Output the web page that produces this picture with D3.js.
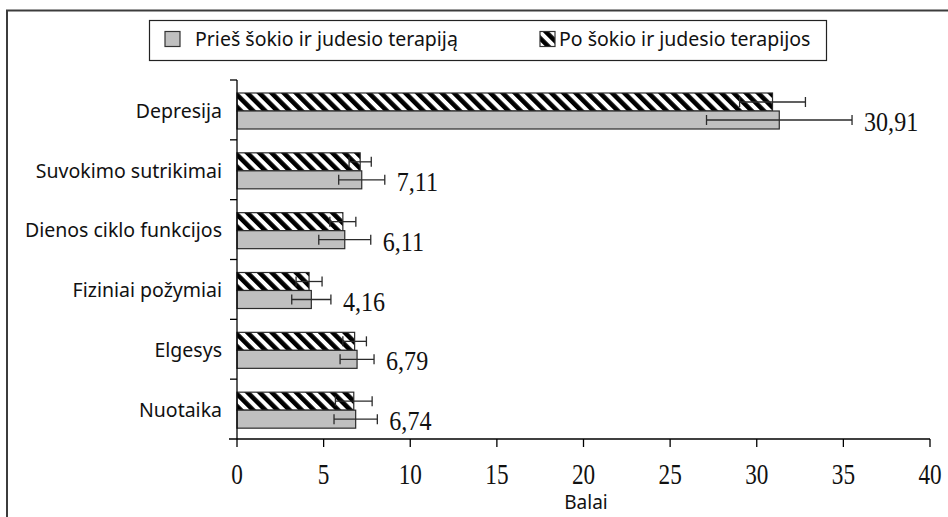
<!DOCTYPE html>
<html>
<head>
<meta charset="utf-8">
<script src="https://cdn.jsdelivr.net/npm/d3@7"></script>
<style>
  html, body { margin: 0; padding: 0; background: #fff; }
  svg { display: block; }
</style>
</head>
<body>
<svg id="chart" width="948" height="517"></svg>
<script>
// Categories, top to bottom
const categories = ["Depresija", "Suvokimo sutrikimai", "Dienos ciklo funkcijos", "Fiziniai požymiai", "Elgesys", "Nuotaika"];
// Scores before therapy (grey) and after therapy (hatched)
const before = [31.3, 7.2, 6.22, 4.29, 6.93, 6.85];
const after = [30.91, 7.11, 6.11, 4.16, 6.79, 6.74];
// Standard deviations used for the error bars
const beforeErr = [4.2, 1.33, 1.5, 1.13, 0.98, 1.25];
const afterErr = [1.9, 0.64, 0.75, 0.75, 0.68, 1.06];
// Values printed next to each group
const valueLabels = ["30,91", "7,11", "6,11", "4,16", "6,79", "6,74"];
const xTicks = [0, 5, 10, 15, 20, 25, 30, 35, 40];
const seriesNames = ["Prieš šokio ir judesio terapiją", "Po šokio ir judesio terapijos"];
const xTitle = "Balai";

const svg = d3.select("#chart");
const ink = "#2b2b2b";
const sans = "'Noto Sans', 'Open Sans', sans-serif";
const serif = "'Liberation Serif', 'Times New Roman', serif";

// Diagonal hatch
const defs = svg.append("defs");
defs.append("pattern")
  .attr("id", "hatch")
  .attr("patternUnits", "userSpaceOnUse")
  .attr("width", 8.6).attr("height", 8.6)
  .attr("patternTransform", "rotate(-45)")
  .append("rect")
  .attr("x", 0).attr("y", 0).attr("width", 4.6).attr("height", 8.6)
  .attr("fill", "#000");

// Outer frame
svg.append("rect")
  .attr("x", 7).attr("y", 10.5).attr("width", 980).attr("height", 560)
  .attr("fill", "none").attr("stroke", "#3c3c3c").attr("stroke-width", 2);

const x = d3.scaleLinear().domain([0, 40]).range([237, 930]);
const y = d3.scaleBand().domain(categories).range([80, 439]);
const sub = d3.scaleBand().domain(["after", "before"]).range([13, 49]);

const rows = categories.map((c, i) => ({
  cat: c, before: before[i], after: after[i],
  beforeErr: beforeErr[i], afterErr: afterErr[i], label: valueLabels[i]
}));

const g = svg.append("g");

// Bars
const row = g.selectAll("g.row").data(rows).join("g")
  .attr("class", "row")
  .attr("transform", d => `translate(0,${y(d.cat)})`);

row.append("rect")
  .attr("x", x(0)).attr("y", sub("after"))
  .attr("width", d => x(d.after) - x(0)).attr("height", sub.bandwidth())
  .attr("fill", "url(#hatch)").attr("stroke", ink).attr("stroke-width", 1.2);

row.append("rect")
  .attr("x", x(0)).attr("y", sub("before"))
  .attr("width", d => x(d.before) - x(0)).attr("height", sub.bandwidth())
  .attr("fill", "#c0c0c0").attr("stroke", ink).attr("stroke-width", 1.2);

// Error bars
function errorBar(sel, key, errKey) {
  const cy = sub(key) + sub.bandwidth() / 2;
  const eg = sel.append("g").attr("stroke", ink).attr("stroke-width", 1.3);
  eg.append("line")
    .attr("x1", d => x(d[key] - d[errKey])).attr("x2", d => x(d[key] + d[errKey]))
    .attr("y1", cy).attr("y2", cy);
  eg.append("line")
    .attr("x1", d => x(d[key] - d[errKey])).attr("x2", d => x(d[key] - d[errKey]))
    .attr("y1", cy - 5).attr("y2", cy + 5);
  eg.append("line")
    .attr("x1", d => x(d[key] + d[errKey])).attr("x2", d => x(d[key] + d[errKey]))
    .attr("y1", cy - 5).attr("y2", cy + 5);
}
errorBar(row, "after", "afterErr");
errorBar(row, "before", "beforeErr");

// Value labels
row.append("text")
  .attr("transform", d => `translate(${x(d.before + d.beforeErr) + 12},${sub("before") + sub.bandwidth() / 2 + 11}) scale(0.86,1)`)
  .attr("font-family", serif).attr("font-size", 28).attr("fill", "#111")
  .text(d => d.label);

// Y axis
const yAxis = g.append("g");
yAxis.append("line")
  .attr("x1", x(0)).attr("x2", x(0)).attr("y1", 80).attr("y2", 439)
  .attr("stroke", "#000").attr("stroke-width", 1.3);
const yTickPos = categories.map(c => y(c));
yAxis.selectAll("line.tick").data(yTickPos).join("line")
  .attr("class", "tick")
  .attr("x1", x(0) - 7).attr("x2", x(0))
  .attr("y1", d => d).attr("y2", d => d)
  .attr("stroke", "#000").attr("stroke-width", 1.3);
yAxis.selectAll("text").data(categories).join("text")
  .attr("x", 222)
  .attr("y", d => y(d) + 31)
  .attr("dy", "0.35em")
  .attr("text-anchor", "end")
  .attr("font-family", sans).attr("font-size", 19.5).attr("fill", "#111")
  .text(d => d);

// X axis
const xAxis = g.append("g");
xAxis.append("line")
  .attr("x1", x(0) - 8).attr("x2", x(40)).attr("y1", 439).attr("y2", 439)
  .attr("stroke", "#000").attr("stroke-width", 1.3);
xAxis.selectAll("line.tick").data(xTicks).join("line")
  .attr("class", "tick")
  .attr("x1", d => x(d)).attr("x2", d => x(d))
  .attr("y1", 439).attr("y2", 447)
  .attr("stroke", "#000").attr("stroke-width", 1.3);
xAxis.selectAll("text").data(xTicks).join("text")
  .attr("transform", d => `translate(${x(d)},484) scale(0.8,1)`)
  .attr("text-anchor", "middle")
  .attr("font-family", serif).attr("font-size", 29).attr("fill", "#111")
  .text(d => d);

svg.append("text")
  .attr("x", 586).attr("y", 509)
  .attr("text-anchor", "middle")
  .attr("font-family", sans).attr("font-size", 19).attr("fill", "#111")
  .text(xTitle);

// Legend
const legend = svg.append("g");
legend.append("rect")
  .attr("x", 149.5).attr("y", 20.5).attr("width", 677).attr("height", 40)
  .attr("fill", "#fff").attr("stroke", "#222").attr("stroke-width", 1.2);
const legendItems = [
  { name: seriesNames[0], fill: "#c0c0c0", sx: 165, tx: 195 },
  { name: seriesNames[1], fill: "url(#hatch)", sx: 540, tx: 559 }
];
const li = legend.selectAll("g.item").data(legendItems).join("g").attr("class", "item");
li.append("rect")
  .attr("x", d => d.sx).attr("y", 31.5).attr("width", 15).attr("height", 15)
  .attr("fill", d => d.fill).attr("stroke", "#333").attr("stroke-width", 1.2);
li.append("text")
  .attr("x", d => d.tx).attr("y", 39.5).attr("dy", "0.35em")
  .attr("font-family", sans).attr("font-size", 19.5).attr("fill", "#111")
  .text(d => d.name);
</script>
</body>
</html>
